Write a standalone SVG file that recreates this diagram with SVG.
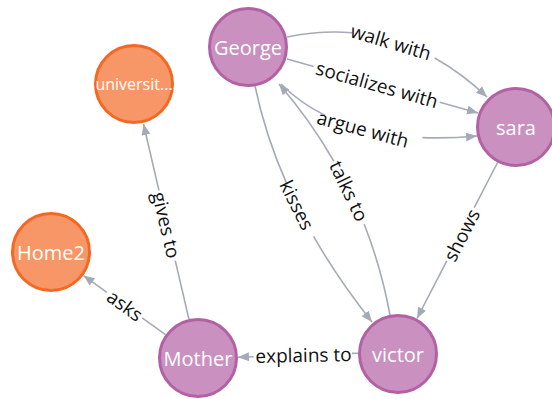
<svg xmlns="http://www.w3.org/2000/svg" width="552" height="399" viewBox="0 0 552 399">
  <defs>
    <marker id="arrow" markerUnits="userSpaceOnUse" markerWidth="12" markerHeight="10" refX="11" refY="4.5" orient="auto">
      <path d="M0,0 L11,4.5 L0,9 Z" fill="#A5ABB6"/>
    </marker>
    <style>
      .rel { fill: none; stroke: #A5ABB6; stroke-width: 1.6; marker-end: url(#arrow); }
      .rel-label { font-family: "Open Sans", "Noto Sans", sans-serif; font-size: 19px; fill: #111; text-anchor: middle; }
      .node circle { stroke-width: 3; }
      .person circle { fill: #C990C0; stroke: #B261A5; }
      .place circle { fill: #F79767; stroke: #F36924; }
      .node text { font-family: "Open Sans", "Noto Sans", sans-serif; font-size: 20px; fill: #FFFFFF; text-anchor: middle; }
    </style>
  </defs>
  <rect width="552" height="399" fill="#FFFFFF"/>

  <!-- relationships: each shaft leaves a gap (via dasharray) where its caption sits -->
  <g id="connectors">
    <path class="rel" d="M287,37 Q400,14 487,97" pathLength="100" stroke-dasharray="30 40 100"/>
    <text class="rel-label" transform="translate(391,42) rotate(16.5)" y="7">walk with</text>

    <path class="rel" d="M287,59 L478,113" pathLength="100" stroke-dasharray="14 66 100"/>
    <text class="rel-label" transform="translate(377,84.5) rotate(15.8)" y="7">socializes with</text>

    <path class="rel" d="M281,84 Q345,148 477,136" pathLength="100" stroke-dasharray="26 48 100"/>
    <text class="rel-label" transform="translate(363,129) rotate(15)" y="7">argue with</text>

    <path class="rel" d="M255,86 Q280,206 372,322" pathLength="100" stroke-dasharray="39 22 100"/>
    <text class="rel-label" transform="translate(297,205) rotate(63.6)" y="7">kisses</text>

    <path class="rel" d="M390,315 Q366,185 279,84" pathLength="100" stroke-dasharray="36.5 27 100"/>
    <text class="rel-label" transform="translate(349,191) rotate(64.3)" y="7">talks to</text>

    <path class="rel" d="M497.6,162.5 L417,318.5" pathLength="100" stroke-dasharray="29 34 100"/>
    <text class="rel-label" transform="translate(461.5,235) rotate(-62.7)" y="7">shows</text>

    <path class="rel" d="M188.9,319.1 L143.5,124" pathLength="100" stroke-dasharray="30 36 100"/>
    <text class="rel-label" transform="translate(166.5,225) rotate(76.9)" y="7">gives to</text>

    <path class="rel" d="M165.5,334.6 L83.5,275.6" pathLength="100" stroke-dasharray="28.5 43 100"/>
    <text class="rel-label" transform="translate(125,305.5) rotate(35.8)" y="7">asks</text>

    <path class="rel" d="M358,353.2 L238,357.2" pathLength="100" stroke-dasharray="5 82 100"/>
    <text class="rel-label" transform="translate(303.5,355) rotate(-1.1)" y="7">explains to</text>
  </g>

  <!-- nodes -->
  <g id="node-george" class="node person">
    <circle cx="248" cy="47" r="38.5"/>
    <text x="248" y="54.5">George</text>
  </g>
  <g id="node-sara" class="node person">
    <circle cx="516" cy="127" r="38.5"/>
    <text x="516" y="134.5">sara</text>
  </g>
  <g id="node-university" class="node place">
    <circle cx="134" cy="84" r="38.5"/>
    <text x="134" y="90" style="font-size:16px">universit...</text>
  </g>
  <g id="node-home2" class="node place">
    <circle cx="51" cy="252" r="38.5"/>
    <text x="51" y="259.5">Home2</text>
  </g>
  <g id="node-mother" class="node person">
    <circle cx="198" cy="358" r="38.5"/>
    <text x="198" y="365.5">Mother</text>
  </g>
  <g id="node-victor" class="node person">
    <circle cx="398" cy="354" r="38.5"/>
    <text x="398" y="361.5">victor</text>
  </g>
</svg>
